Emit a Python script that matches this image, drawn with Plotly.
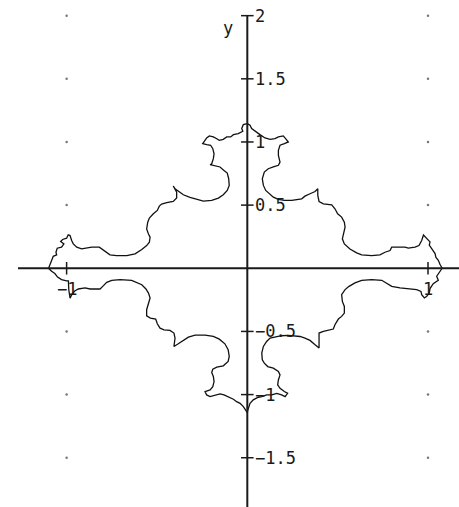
import plotly.graph_objects as go

# Visible window in data units
X_RANGE = [-1.269, 1.1715]
Y_RANGE = [-1.890, 2.124]
Y_AXIS_TOP = 2.0

# Axis ticks and their labels
x_ticks = [-1, 1]
x_tick_labels = ["−1", "1"]
y_ticks = [2, 1.5, 1, 0.5, -0.5, -1, -1.5]
y_tick_labels = ["2", "1.5", "1", "0.5", "−0.5", "−1", "−1.5"]

# Dotted grid positions
grid_x = [-1, 1]
grid_y = [2, 1.5, 1, 0.5, -0.5, -1, -1.5]

# Boundary curve, traced counter-clockwise starting from the top
upper_left = [
    (0.000, 1.145), (-0.022, 1.137), (-0.031, 1.106), (-0.025, 1.085), (-0.050, 1.066),
    (-0.077, 1.058), (-0.092, 1.040), (-0.114, 1.040), (-0.133, 1.021), (-0.155, 1.013),
    (-0.169, 1.026), (-0.188, 1.040), (-0.210, 1.048), (-0.225, 1.032), (-0.238, 1.005),
    (-0.247, 0.987), (-0.225, 0.979), (-0.203, 0.974), (-0.191, 0.947), (-0.184, 0.907),
    (-0.188, 0.868), (-0.197, 0.828), (-0.206, 0.820), (-0.179, 0.810), (-0.151, 0.802),
    (-0.129, 0.775), (-0.111, 0.754), (-0.103, 0.709), (-0.100, 0.656), (-0.111, 0.616),
    (-0.133, 0.582), (-0.160, 0.556), (-0.197, 0.537), (-0.243, 0.532), (-0.280, 0.545),
    (-0.317, 0.561), (-0.354, 0.582), (-0.382, 0.608), (-0.400, 0.630), (-0.410, 0.651),
    (-0.391, 0.603), (-0.391, 0.556), (-0.410, 0.529), (-0.446, 0.519), (-0.474, 0.508),
    (-0.487, 0.492), (-0.498, 0.458), (-0.520, 0.431), (-0.542, 0.397), (-0.551, 0.365),
    (-0.557, 0.312), (-0.547, 0.272), (-0.538, 0.246), (-0.542, 0.206), (-0.557, 0.180),
    (-0.584, 0.148), (-0.621, 0.114), (-0.667, 0.100), (-0.723, 0.100), (-0.760, 0.106),
    (-0.782, 0.127), (-0.806, 0.153), (-0.819, 0.167), (-0.861, 0.167), (-0.893, 0.161),
    (-0.917, 0.153), (-0.944, 0.167), (-0.963, 0.193), (-0.972, 0.220), (-0.981, 0.259),
    (-0.991, 0.265), (-1.000, 0.238), (-1.022, 0.228), (-1.033, 0.212), (-1.015, 0.193),
    (-1.028, 0.167), (-1.052, 0.159), (-1.059, 0.127), (-1.055, 0.106), (-1.074, 0.095),
    (-1.083, 0.061), (-1.092, 0.034), (-1.100, 0.000),
]

lower_left = [
    (-1.083, -0.024), (-1.065, -0.042), (-1.050, -0.070), (-1.028, -0.090), (-1.000, -0.100),
    (-0.990, -0.100), (-0.988, -0.170), (-0.981, -0.236), (-0.970, -0.205), (-0.955, -0.180),
    (-0.935, -0.164), (-0.898, -0.156), (-0.870, -0.164), (-0.815, -0.164), (-0.800, -0.143),
    (-0.778, -0.111), (-0.750, -0.095), (-0.704, -0.090), (-0.640, -0.095), (-0.612, -0.111),
    (-0.584, -0.130), (-0.561, -0.164), (-0.547, -0.196), (-0.538, -0.235), (-0.547, -0.275),
    (-0.557, -0.328), (-0.557, -0.376), (-0.536, -0.394), (-0.507, -0.402), (-0.498, -0.439),
    (-0.483, -0.474), (-0.461, -0.487), (-0.428, -0.492), (-0.406, -0.513), (-0.400, -0.553),
    (-0.406, -0.619), (-0.382, -0.598), (-0.354, -0.571), (-0.326, -0.545), (-0.289, -0.529),
    (-0.234, -0.529), (-0.188, -0.540), (-0.155, -0.561), (-0.124, -0.598), (-0.106, -0.645),
    (-0.100, -0.698), (-0.106, -0.738), (-0.133, -0.772), (-0.169, -0.783), (-0.191, -0.799),
    (-0.197, -0.825), (-0.188, -0.857), (-0.184, -0.897), (-0.191, -0.937), (-0.206, -0.963),
    (-0.234, -0.976), (-0.225, -1.003), (-0.206, -1.016), (-0.179, -1.003), (-0.151, -0.995),
    (-0.129, -1.003), (-0.106, -1.016), (-0.077, -1.037), (-0.059, -1.056), (-0.040, -1.069),
    (-0.022, -1.095), (-0.007, -1.122), (0.000, -1.143),
]

lower_right = [
    (0.002, -1.127), (0.006, -1.108), (0.015, -1.069), (0.033, -1.042), (0.061, -1.021),
    (0.080, -1.016), (0.107, -1.003), (0.135, -1.003), (0.163, -0.990), (0.190, -1.003),
    (0.209, -1.016), (0.223, -0.990), (0.205, -0.976), (0.181, -0.950), (0.168, -0.923),
    (0.172, -0.884), (0.181, -0.844), (0.172, -0.817), (0.144, -0.791), (0.113, -0.778),
    (0.094, -0.751), (0.083, -0.725), (0.080, -0.672), (0.089, -0.619), (0.107, -0.579),
    (0.126, -0.553), (0.163, -0.540), (0.190, -0.534), (0.227, -0.532), (0.264, -0.534),
    (0.292, -0.540), (0.319, -0.553), (0.347, -0.571), (0.375, -0.606), (0.397, -0.632),
    (0.397, -0.579), (0.397, -0.513), (0.421, -0.500), (0.449, -0.492), (0.476, -0.481),
    (0.485, -0.447), (0.504, -0.402), (0.522, -0.381), (0.537, -0.355), (0.537, -0.302),
    (0.526, -0.262), (0.522, -0.209), (0.541, -0.169), (0.563, -0.143), (0.596, -0.116),
    (0.633, -0.095), (0.688, -0.090), (0.744, -0.095), (0.771, -0.116), (0.799, -0.143),
    (0.845, -0.156), (0.891, -0.164), (0.937, -0.169), (0.961, -0.183), (0.965, -0.209),
    (0.980, -0.235), (0.993, -0.222), (1.007, -0.196), (1.011, -0.161), (1.029, -0.122),
    (1.057, -0.095), (1.048, -0.063), (1.066, -0.029), (1.078, 0.000),
]

upper_right = [
    (1.066, 0.032), (1.057, 0.063), (1.044, 0.085), (1.039, 0.116), (1.026, 0.143),
    (1.007, 0.183), (1.011, 0.209), (0.993, 0.235), (0.975, 0.263), (0.965, 0.220),
    (0.950, 0.180), (0.928, 0.167), (0.891, 0.159), (0.873, 0.167), (0.836, 0.167),
    (0.799, 0.167), (0.790, 0.140), (0.762, 0.127), (0.734, 0.106), (0.688, 0.100),
    (0.633, 0.106), (0.605, 0.122), (0.568, 0.153), (0.537, 0.193), (0.526, 0.233),
    (0.531, 0.272), (0.541, 0.325), (0.537, 0.365), (0.522, 0.405), (0.500, 0.431),
    (0.485, 0.471), (0.467, 0.502), (0.421, 0.510), (0.397, 0.529), (0.390, 0.577),
    (0.390, 0.630), (0.375, 0.608), (0.347, 0.590), (0.319, 0.571), (0.301, 0.550),
    (0.273, 0.545), (0.246, 0.537), (0.205, 0.537), (0.172, 0.545), (0.144, 0.563),
    (0.120, 0.590), (0.102, 0.616), (0.089, 0.656), (0.083, 0.709), (0.094, 0.762),
    (0.116, 0.788), (0.144, 0.802), (0.172, 0.815), (0.181, 0.841), (0.172, 0.894),
    (0.172, 0.934), (0.181, 0.974), (0.205, 0.987), (0.227, 1.000), (0.212, 1.026),
    (0.199, 1.048), (0.172, 1.040), (0.153, 1.026), (0.126, 1.021), (0.098, 1.032),
    (0.070, 1.058), (0.052, 1.079), (0.024, 1.106), (0.015, 1.132), (0.000, 1.145),
]

curve = upper_left + lower_left + lower_right + upper_right
curve_x = [p[0] for p in curve]
curve_y = [p[1] for p in curve]

AXIS_COLOR = "#1a1a1a"
FONT = dict(family="DejaVu Sans Mono", size=17, color="#1a1a1a")

fig = go.Figure()

# dotted grid
fig.add_trace(go.Scatter(
    x=[gx for gx in grid_x for _ in grid_y],
    y=[gy for _ in grid_x for gy in grid_y],
    mode="markers",
    marker=dict(size=2.5, color="#777777"),
    hoverinfo="skip",
))

# the boundary curve
fig.add_trace(go.Scatter(
    x=curve_x, y=curve_y,
    mode="lines",
    line=dict(color="#111111", width=1.3),
    hoverinfo="skip",
))

# tick marks crossing the axes
fig.add_trace(go.Scatter(
    x=[0] * len(y_ticks), y=y_ticks,
    mode="markers",
    marker=dict(symbol="line-ew", size=9, line=dict(width=1.5, color=AXIS_COLOR)),
    hoverinfo="skip",
))
fig.add_trace(go.Scatter(
    x=x_ticks, y=[0] * len(x_ticks),
    mode="markers",
    marker=dict(symbol="line-ns", size=9, line=dict(width=1.5, color=AXIS_COLOR)),
    hoverinfo="skip",
))

# axis lines through the origin
fig.add_shape(type="line", xref="x", yref="y",
              x0=X_RANGE[0], x1=X_RANGE[1], y0=0, y1=0,
              line=dict(color=AXIS_COLOR, width=2))
fig.add_shape(type="line", xref="x", yref="y",
              x0=0, x1=0, y0=Y_RANGE[0], y1=Y_AXIS_TOP,
              line=dict(color=AXIS_COLOR, width=2))

annotations = []
for v, t in zip(y_ticks, y_tick_labels):
    annotations.append(dict(x=0, y=v, xref="x", yref="y", text=t, showarrow=False,
                            xanchor="left", yanchor="middle", xshift=6, font=FONT))
for v, t in zip(x_ticks, x_tick_labels):
    annotations.append(dict(x=v, y=0, xref="x", yref="y", text=t, showarrow=False,
                            xanchor="center", yanchor="top", yshift=-9, font=FONT))
annotations.append(dict(x=0, y=1.90, xref="x", yref="y", text="y", showarrow=False,
                        xanchor="right", yanchor="middle", xshift=-12, font=FONT))

fig.update_layout(
    width=459, height=507,
    margin=dict(l=18, r=0, t=0, b=0),
    paper_bgcolor="white", plot_bgcolor="white",
    showlegend=False,
    xaxis=dict(range=X_RANGE, visible=False),
    yaxis=dict(range=Y_RANGE, visible=False),
    annotations=annotations,
)

fig.write_html("out.html")
